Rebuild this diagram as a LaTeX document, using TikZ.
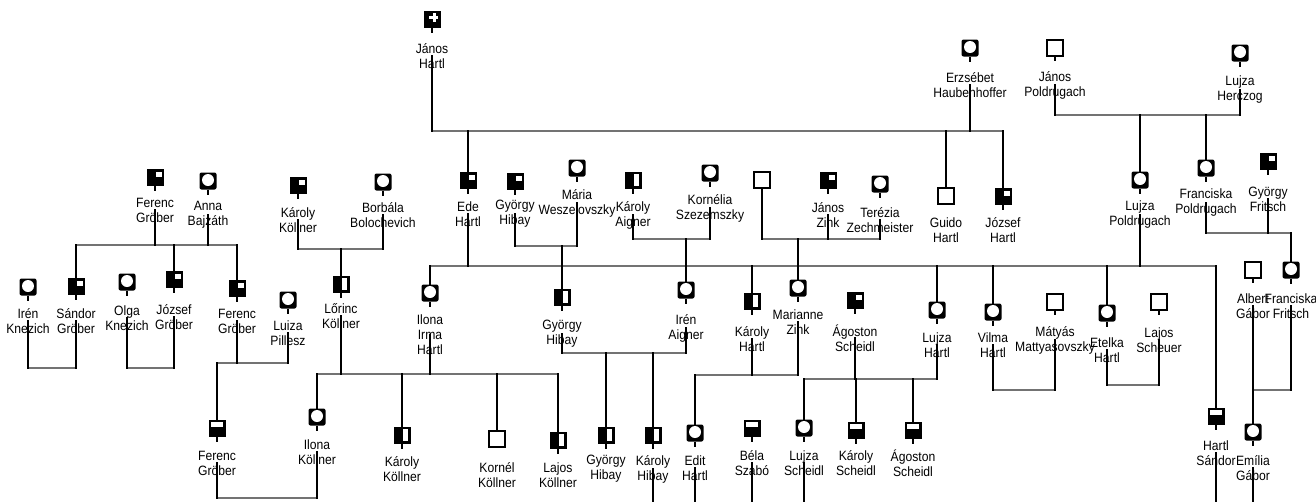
\documentclass[tikz,border=0pt]{standalone}
\usepackage{fontspec}
\setmainfont{Liberation Sans}
\newfontfamily\namefont[FakeStretch=0.9]{Liberation Sans}
\begin{document}
\begin{tikzpicture}[x=1pt, y=-1pt,
 body/.style={minimum size=17pt, inner sep=0pt, outer sep=0pt},
 sym/.style={body, append after command={(\tikzlastnode.south) edge[stemline] ++(0,5)}},
 emptybox/.style={draw=black, fill=white, line width=1.8pt, minimum size=15.5pt},
 manempty/.style={sym, emptybox},
 woman/.style={sym, fill=black, rounded corners=2pt,
   path picture={\fill[white] ([yshift=1pt]path picture bounding box.center) circle (6pt);}},
 mandot/.style={sym, fill=black,
   path picture={\fill[white] ([shift={(1pt,0pt)}]path picture bounding box.center) rectangle ++(5.5pt,5.5pt);}},
 manhalf/.style={sym, fill=black,
   path picture={\fill[white] ([shift={(1pt,-6pt)}]path picture bounding box.center) rectangle ++(5pt,12pt);}},
 manbar/.style={sym, fill=black,
   path picture={\fill[white] ([shift={(-6pt,1.5pt)}]path picture bounding box.center) rectangle ++(12pt,4.5pt);}},
 mancross/.style={sym, fill=black,
   path picture={\fill[white] ([shift={(0.5pt,-3pt)}]path picture bounding box.center) rectangle ++(3pt,9pt);
                 \fill[white] ([shift={(-3pt,0.5pt)}]path picture bounding box.center) rectangle ++(9pt,3pt);}},
 lbl/.style={align=center, inner sep=0pt, font=\namefont\fontsize{13.5}{15}\selectfont},
 stemline/.style={line width=1.6pt, black},
 vline/.style={line width=2.4pt, black, line cap=rect},
 hline/.style={line width=2.4pt, black!55, line cap=rect}]
\useasboundingbox (0,0) rectangle (1316,501);

% first generation
\node[mancross] (jhartl) at (432,19) {};
\node[lbl] (jhartl-t) at (432,56) {János\\Hartl};
\node[woman] (erzs) at (970,48) {};
\node[lbl] (erzs-t) at (970,85) {Erzsébet\\Haubenhoffer};
\node[manempty] (jpold) at (1055,48) {};
\node[lbl] (jpold-t) at (1055,85) {János\\Poldrugach};
\node[woman] (lherc) at (1240,53) {};
\node[lbl] (lherc-t) at (1240,90) {Lujza\\Herczog};

% second generation
\node[mandot] (fgrob1) at (155,177) {};
\node[lbl] (fgrob1-t) at (155,210) {Ferenc\\Gröber};
\node[woman] (abajz) at (208,181) {};
\node[lbl] (abajz-t) at (208,215) {Anna\\Bajzáth};
\node[mandot] (kkoll1) at (298,185) {};
\node[lbl] (kkoll1-t) at (298,220) {Károly\\Köllner};
\node[woman] (bbolo) at (383,182) {};
\node[lbl] (bbolo-t) at (383,215) {Borbála\\Bolochevich};
\node[mandot] (ede) at (468,180) {};
\node[lbl] (ede-t) at (468,214) {Ede\\Hartl};
\node[mandot] (ghib1) at (515,181) {};
\node[lbl] (ghib1-t) at (515,214) {György\\Hibay};
\node[woman] (mwesz) at (577,168) {};
\node[lbl] (mwesz-t) at (577,203) {Mária\\Weszelovszky};
\node[manhalf] (kaig) at (633,180) {};
\node[lbl] (kaig-t) at (633,215) {Károly\\Aigner};
\node[woman] (kszez) at (710,173) {};
\node[lbl] (kszez-t) at (710,208) {Kornélia\\Szezemszky};
\node[manempty] (anon) at (762,180) {};
\node[mandot] (jzink) at (828,180) {};
\node[lbl] (jzink-t) at (828,215) {János\\Zink};
\node[woman] (tzech) at (880,184) {};
\node[lbl] (tzech-t) at (880,220) {Terézia\\Zechmeister};
\node[body, emptybox] (guido) at (946,196) {};
\node[lbl] (guido-t) at (946,230) {Guido\\Hartl};
\node[mandot] (jozsef) at (1003,196) {};
\node[lbl] (jozsef-t) at (1003,230) {József\\Hartl};
\node[woman] (lpold) at (1140,180) {};
\node[lbl] (lpold-t) at (1140,215) {Lujza\\Poldrugach};
\node[woman] (fpold) at (1206,168) {};
\node[lbl] (fpold-t) at (1206,203) {Franciska\\Poldrugach};
\node[mandot] (gfrit) at (1268,161) {};
\node[lbl] (gfrit-t) at (1268,199) {György\\Fritsch};

% third generation
\node[woman] (iknez) at (28,287) {};
\node[lbl] (iknez-t) at (28,321) {Irén\\Knezich};
\node[mandot] (sgrob) at (76,286) {};
\node[lbl] (sgrob-t) at (76,321) {Sándor\\Gröber};
\node[woman] (oknez) at (127,282) {};
\node[lbl] (oknez-t) at (127,318) {Olga\\Knezich};
\node[mandot] (jgrob) at (174,279) {};
\node[lbl] (jgrob-t) at (174,317) {József\\Gröber};
\node[mandot] (fgrob2) at (237,288) {};
\node[lbl] (fgrob2-t) at (237,321) {Ferenc\\Gröber};
\node[woman] (lpill) at (288,300) {};
\node[lbl] (lpill-t) at (288,333) {Luiza\\Pillesz};
\node[manhalf] (lorinc) at (341,284) {};
\node[lbl] (lorinc-t) at (341,316) {Lőrinc\\Köllner};
\node[woman] (iihartl) at (430,293) {};
\node[lbl] (iihartl-t) at (430,335) {Ilona\\Irma\\Hartl};
\node[manhalf] (ghib2) at (562,297) {};
\node[lbl] (ghib2-t) at (562,334) {György\\Hibay};
\node[woman] (iaig) at (686,290) {};
\node[lbl] (iaig-t) at (686,328) {Irén\\Aigner};
\node[manhalf] (khartl) at (752,301) {};
\node[lbl] (khartl-t) at (752,339) {Károly\\Hartl};
\node[woman] (mzink) at (798,288) {};
\node[lbl] (mzink-t) at (798,322) {Marianne\\Zink};
\node[mandot] (ascheidl1) at (855,300) {};
\node[lbl] (ascheidl1-t) at (855,338) {Ágoston\\Scheidl};
\node[woman] (lhartl) at (937,310) {};
\node[lbl] (lhartl-t) at (937,345) {Lujza\\Hartl};
\node[woman] (vilma) at (993,312) {};
\node[lbl] (vilma-t) at (993,345) {Vilma\\Hartl};
\node[manempty] (matyas) at (1055,302) {};
\node[lbl] (matyas-t) at (1055,340) {Mátyás\\Mattyasovszky};
\node[woman] (etelka) at (1107,313) {};
\node[lbl] (etelka-t) at (1107,350) {Etelka\\Hartl};
\node[manempty] (lajos) at (1159,302) {};
\node[lbl] (lajos-t) at (1159,340) {Lajos\\Scheuer};
\node[manempty] (albert) at (1253,270) {};
\node[lbl] (albert-t) at (1253,306) {Albert\\Gábor};
\node[woman] (ffrit) at (1291,270) {};
\node[lbl] (ffrit-t) at (1291,306) {Franciska\\Fritsch};

% fourth generation
\node[manbar] (fgrob3) at (217,428) {};
\node[lbl] (fgrob3-t) at (217,463) {Ferenc\\Gröber};
\node[woman] (ikoll) at (317,417) {};
\node[lbl] (ikoll-t) at (317,452) {Ilona\\Köllner};
\node[manhalf] (kkoll2) at (402,435) {};
\node[lbl] (kkoll2-t) at (402,469) {Károly\\Köllner};
\node[body, emptybox] (kornel) at (497,439) {};
\node[lbl] (kornel-t) at (497,475) {Kornél\\Köllner};
\node[manhalf] (lkoll) at (558,440) {};
\node[lbl] (lkoll-t) at (558,475) {Lajos\\Köllner};
\node[manhalf] (ghib3) at (606,435) {};
\node[lbl] (ghib3-t) at (606,469) {György\\Hibay};
\node[manhalf] (khib) at (653,435) {};
\node[lbl] (khib-t) at (653,469) {Károly\\Hibay};
\node[woman] (edit) at (695,433) {};
\node[lbl] (edit-t) at (695,468) {Edit\\Hartl};
\node[manbar] (bela) at (752,428) {};
\node[lbl] (bela-t) at (752,463) {Béla\\Szabó};
\node[woman] (lscheidl) at (804,428) {};
\node[lbl] (lscheidl-t) at (804,463) {Lujza\\Scheidl};
\node[manbar] (kscheidl) at (856,430) {};
\node[lbl] (kscheidl-t) at (856,463) {Károly\\Scheidl};
\node[manbar] (ascheidl2) at (913,430) {};
\node[lbl] (ascheidl2-t) at (913,463) {Ágoston\\Scheidl};
\node[manbar] (sandor) at (1216,416) {};
\node[lbl] (sandor-t) at (1216,453) {Hartl\\Sándor};
\node[woman] (emilia) at (1253,432) {};
\node[lbl] (emilia-t) at (1253,468) {Emília\\Gábor};

% heights of the family lines
\coordinate (hartl-haub) at (0,131);
\coordinate (pold-herc) at (0,115);
\coordinate (grob-bajz) at (0,245);
\coordinate (koll-bolo) at (0,249);
\coordinate (ede-lujza) at (0,266);
\coordinate (hib-wesz) at (0,246);
\coordinate (aig-szez) at (0,239);
\coordinate (zink) at (0,239);
\coordinate (fritsch) at (0,233);
\coordinate (knezich) at (0,368);
\coordinate (grob-pill) at (0,363);
\coordinate (lor-ilona) at (0,374);
\coordinate (hib-aig) at (0,353);
\coordinate (hartl-zink) at (0,375);
\coordinate (scheidl) at (0,379);
\coordinate (vilma-mat) at (0,390);
\coordinate (etelka-laj) at (0,385);
\coordinate (gabor) at (0,390);
\coordinate (grob-koll) at (0,498);
\coordinate (bottom) at (0,501);

% horizontal lines
\draw[hline] (jhartl |- hartl-haub) -- (jozsef |- hartl-haub);
\draw[hline] (jpold |- pold-herc) -- (lherc |- pold-herc);
\draw[hline] (sgrob |- grob-bajz) -- (fgrob2 |- grob-bajz);
\draw[hline] (kkoll1 |- koll-bolo) -- (bbolo |- koll-bolo);
\draw[hline] (iihartl |- ede-lujza) -- (sandor |- ede-lujza);
\draw[hline] (ghib1 |- hib-wesz) -- (mwesz |- hib-wesz);
\draw[hline] (kaig |- aig-szez) -- (kszez |- aig-szez);
\draw[hline] (anon |- zink) -- (tzech |- zink);
\draw[hline] (fpold |- fritsch) -- (ffrit |- fritsch);
\draw[hline] (iknez |- knezich) -- (sgrob |- knezich);
\draw[hline] (oknez |- knezich) -- (jgrob |- knezich);
\draw[hline] (fgrob3 |- grob-pill) -- (lpill |- grob-pill);
\draw[hline] (ikoll |- lor-ilona) -- (lkoll |- lor-ilona);
\draw[hline] (ghib2 |- hib-aig) -- (iaig |- hib-aig);
\draw[hline] (edit |- hartl-zink) -- (mzink |- hartl-zink);
\draw[hline] (lscheidl |- scheidl) -- (lhartl |- scheidl);
\draw[hline] (vilma |- vilma-mat) -- (matyas |- vilma-mat);
\draw[hline] (etelka |- etelka-laj) -- (lajos |- etelka-laj);
\draw[hline] (albert |- gabor) -- (ffrit |- gabor);
\draw[hline] (fgrob3 |- grob-koll) -- (ikoll |- grob-koll);

% Hartl and Haubenhoffer
\draw[vline] (jhartl-t.center) -- (jhartl |- hartl-haub);
\draw[vline] (erzs-t.center) -- (erzs |- hartl-haub);
\draw[vline] (ede |- hartl-haub) -- (ede.north);
\draw[vline] (guido |- hartl-haub) -- (guido.north);
\draw[vline] (jozsef |- hartl-haub) -- (jozsef.north);

% Poldrugach and Herczog
\draw[vline] (jpold-t.center) -- (jpold |- pold-herc);
\draw[vline] (lherc-t.center) -- (lherc |- pold-herc);
\draw[vline] (lpold |- pold-herc) -- (lpold.north);
\draw[vline] (fpold |- pold-herc) -- (fpold.north);

% Gröber and Bajzáth
\draw[vline] (fgrob1-t.center) -- (fgrob1 |- grob-bajz);
\draw[vline] (abajz-t.center) -- (abajz |- grob-bajz);
\draw[vline] (sgrob |- grob-bajz) -- (sgrob.north);
\draw[vline] (jgrob |- grob-bajz) -- (jgrob.north);
\draw[vline] (fgrob2 |- grob-bajz) -- (fgrob2.north);

% Köllner and Bolochevich
\draw[vline] (kkoll1-t.center) -- (kkoll1 |- koll-bolo);
\draw[vline] (bbolo-t.center) -- (bbolo |- koll-bolo);
\draw[vline] (lorinc |- koll-bolo) -- (lorinc.north);

% Ede Hartl and Lujza Poldrugach
\draw[vline] (ede-t.center) -- (ede |- ede-lujza);
\draw[vline] (lpold-t.center) -- (lpold |- ede-lujza);
\draw[vline] (iihartl |- ede-lujza) -- (iihartl.north);
\draw[vline] (khartl |- ede-lujza) -- (khartl.north);
\draw[vline] (lhartl |- ede-lujza) -- (lhartl.north);
\draw[vline] (vilma |- ede-lujza) -- (vilma.north);
\draw[vline] (etelka |- ede-lujza) -- (etelka.north);
\draw[vline] (sandor |- ede-lujza) -- (sandor.north);

% Hibay and Weszelovszky
\draw[vline] (ghib1-t.center) -- (ghib1 |- hib-wesz);
\draw[vline] (mwesz-t.center) -- (mwesz |- hib-wesz);
\draw[vline] (ghib2 |- hib-wesz) -- (ghib2.north);

% Aigner and Szezemszky
\draw[vline] (kaig-t.center) -- (kaig |- aig-szez);
\draw[vline] (kszez-t.center) -- (kszez |- aig-szez);
\draw[vline] (iaig |- aig-szez) -- (iaig.north);

% Zink
\draw[vline] (anon.south) -- (anon |- zink);
\draw[vline] (jzink-t.center) -- (jzink |- zink);
\draw[vline] (tzech-t.center) -- (tzech |- zink);
\draw[vline] (mzink |- zink) -- (mzink.north);

% Poldrugach and Fritsch
\draw[vline] (fpold-t.center) -- (fpold |- fritsch);
\draw[vline] (gfrit-t.center) -- (gfrit |- fritsch);
\draw[vline] (ffrit |- fritsch) -- (ffrit.north);

% couples of the third generation
\draw[vline] (iknez-t.center) -- (iknez |- knezich);
\draw[vline] (sgrob-t.center) -- (sgrob |- knezich);
\draw[vline] (oknez-t.center) -- (oknez |- knezich);
\draw[vline] (jgrob-t.center) -- (jgrob |- knezich);

\draw[vline] (fgrob2-t.center) -- (fgrob2 |- grob-pill);
\draw[vline] (lpill-t.center) -- (lpill |- grob-pill);
\draw[vline] (fgrob3 |- grob-pill) -- (fgrob3.north);

\draw[vline] (lorinc-t.center) -- (lorinc |- lor-ilona);
\draw[vline] (iihartl-t.center) -- (iihartl |- lor-ilona);
\draw[vline] (ikoll |- lor-ilona) -- (ikoll.north);
\draw[vline] (kkoll2 |- lor-ilona) -- (kkoll2.north);
\draw[vline] (kornel |- lor-ilona) -- (kornel.north);
\draw[vline] (lkoll |- lor-ilona) -- (lkoll.north);

\draw[vline] (ghib2-t.center) -- (ghib2 |- hib-aig);
\draw[vline] (iaig-t.center) -- (iaig |- hib-aig);
\draw[vline] (ghib3 |- hib-aig) -- (ghib3.north);
\draw[vline] (khib |- hib-aig) -- (khib.north);

\draw[vline] (khartl-t.center) -- (khartl |- hartl-zink);
\draw[vline] (mzink-t.center) -- (mzink |- hartl-zink);
\draw[vline] (edit |- hartl-zink) -- (edit.north);

\draw[vline] (ascheidl1-t.center) -- (ascheidl1 |- scheidl);
\draw[vline] (lhartl-t.center) -- (lhartl |- scheidl);
\draw[vline] (lscheidl |- scheidl) -- (lscheidl.north);
\draw[vline] (kscheidl |- scheidl) -- (kscheidl.north);
\draw[vline] (ascheidl2 |- scheidl) -- (ascheidl2.north);

\draw[vline] (vilma-t.center) -- (vilma |- vilma-mat);
\draw[vline] (matyas-t.center) -- (matyas |- vilma-mat);
\draw[vline] (etelka-t.center) -- (etelka |- etelka-laj);
\draw[vline] (lajos-t.center) -- (lajos |- etelka-laj);

\draw[vline] (albert-t.center) -- (emilia.north);
\draw[vline] (ffrit-t.center) -- (ffrit |- gabor);

% fourth generation
\draw[vline] (fgrob3-t.center) -- (fgrob3 |- grob-koll);
\draw[vline] (ikoll-t.center) -- (ikoll |- grob-koll);
\draw[vline] (khib-t.center) -- (khib |- bottom);
\draw[vline] (edit-t.center) -- (edit |- bottom);
\draw[vline] (bela-t.center) -- (bela |- bottom);
\draw[vline] (lscheidl-t.center) -- (lscheidl |- bottom);
\draw[vline] (sandor-t.center) -- (sandor |- bottom);
\draw[vline] (emilia-t.center) -- (emilia |- bottom);
\end{tikzpicture}
\end{document}
